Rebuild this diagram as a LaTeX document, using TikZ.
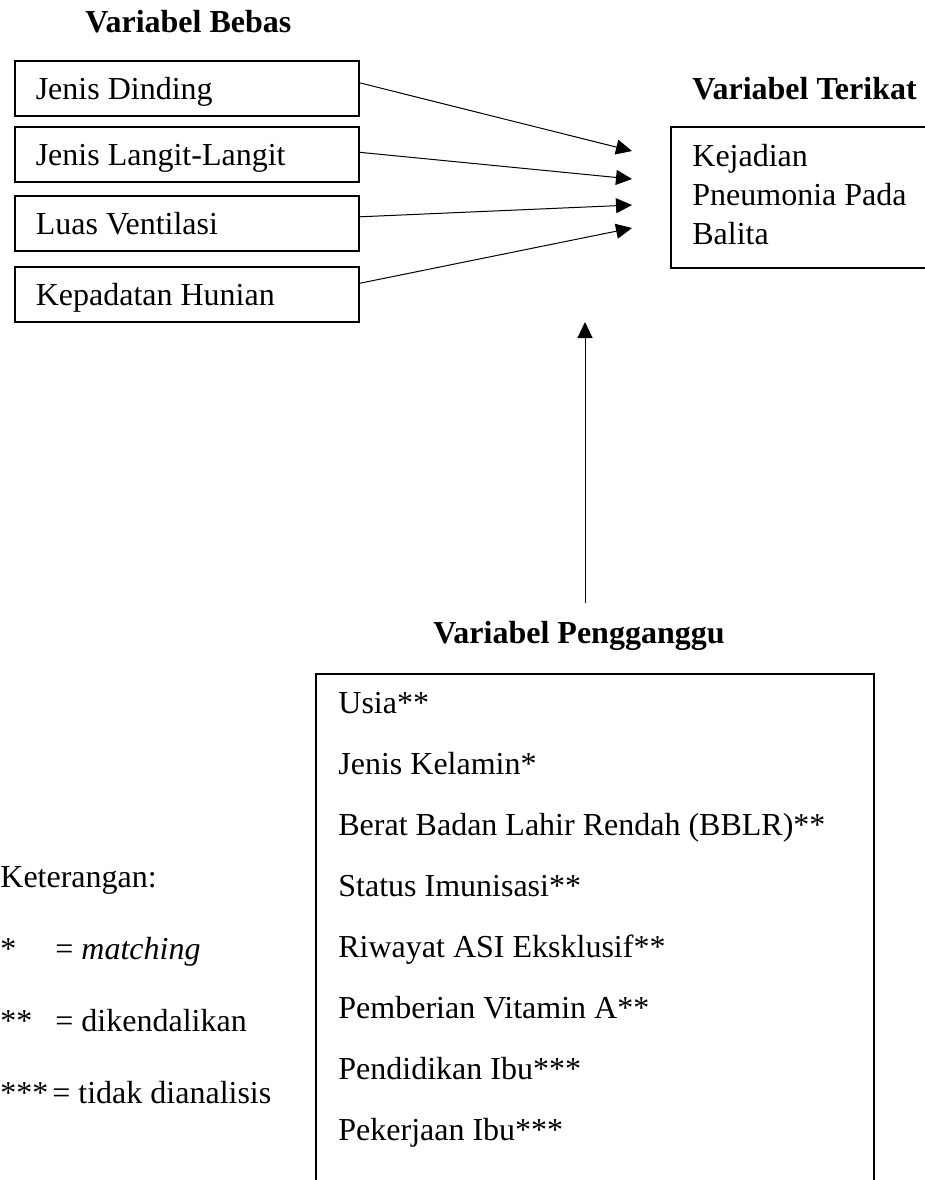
\documentclass[tikz,border=0pt]{standalone}
\usepackage{fontspec}
\setmainfont{Liberation Serif}
\usetikzlibrary{arrows.meta}
\newcommand\fsz{\fontsize{16}{19.5}\selectfont}
\newcommand\lbox[1]{\makebox[151pt][l]{#1}}
\begin{document}
\begin{tikzpicture}[x=0.5pt,y=-0.5pt,
  box/.style={draw, line width=0.8pt, rectangle, anchor=north west, inner sep=0pt},
  varbox/.style={box, inner xsep=10.5pt, inner ysep=0pt, minimum height=27.5pt, text height=13pt, text depth=1.5pt, font=\fsz},
  txt/.style={inner sep=0pt, anchor=base west, font=\fsz},
  head/.style={inner sep=0pt, font=\fsz\bfseries},
  conn/.style={line width=0.5pt, -{Triangle[length=8pt,width=7.5pt]}},
]
\useasboundingbox (0,0) rectangle (925,1180);
\clip (0,0) rectangle (925,1180);

% Variabel Bebas
\node[head, anchor=base west] (hbebas) at (85,32) {Variabel Bebas};
\node[varbox] (b1) at (14,60) {\lbox{Jenis Dinding}};
\node[varbox] (b2) at (14,126) {\lbox{Jenis Langit-Langit}};
\node[varbox] (b3) at (14,195) {\lbox{Luas Ventilasi}};
\node[varbox] (b4) at (14,266) {\lbox{Kepadatan Hunian}};

% Variabel Terikat
\node[head, anchor=base west] (hterikat) at (692,99.5) {Variabel Terikat};
\node[box, minimum width=150pt, minimum height=70.5pt] (terikat) at (670,126) {};
\node[txt] (terikattxt) at (692,166) {\begin{tabular}[t]{@{}l@{}}Kejadian\\Pneumonia Pada\\Balita\end{tabular}};

% arrows from independent variables
\coordinate (a1) at (632,151);
\coordinate (a2) at (632,179);
\coordinate (a3) at (632,205);
\coordinate (a4) at (632,228);
\draw[conn] ([yshift=2.75pt]b1.east) -- (a1);
\draw[conn] ([yshift=1pt]b2.east) -- (a2);
\draw[conn] ([yshift=3.25pt]b3.east) -- (a3);
\draw[conn] ([yshift=5.5pt]b4.east) -- (a4);

% vertical arrow
\coordinate (v0) at (585,603);
\coordinate (v1) at (585,322);
\draw[conn] (v0) -- (v1);

% Variabel Pengganggu
\node[head, anchor=base east] (hpeng) at (725,643) {Variabel Pengganggu};
\node[box, minimum width=279pt, minimum height=280pt] (peng) at (315,673) {};
\node[txt] (pengtxt) at (338,713) {\fontsize{16}{30.5}\selectfont\begin{tabular}[t]{@{}l@{}}Usia**\\Jenis Kelamin*\\Berat Badan Lahir Rendah (BBLR)**\\Status Imunisasi**\\Riwayat ASI Eksklusif**\\Pemberian Vitamin A**\\Pendidikan Ibu***\\Pekerjaan Ibu***\end{tabular}};

% Keterangan
\node[txt] (ket) at (0,887) {Keterangan:};
\node[txt] (k1s) at (0,959) {*};
\node[txt] (k1d) at (55,959) {= \textit{matching}};
\node[txt] (k2s) at (0,1031) {**};
\node[txt] (k2d) at (55,1031) {= dikendalikan};
\node[txt] (k3s) at (0,1103) {***};
\node[txt] (k3d) at (52,1103) {= tidak dianalisis};
\end{tikzpicture}
\end{document}
